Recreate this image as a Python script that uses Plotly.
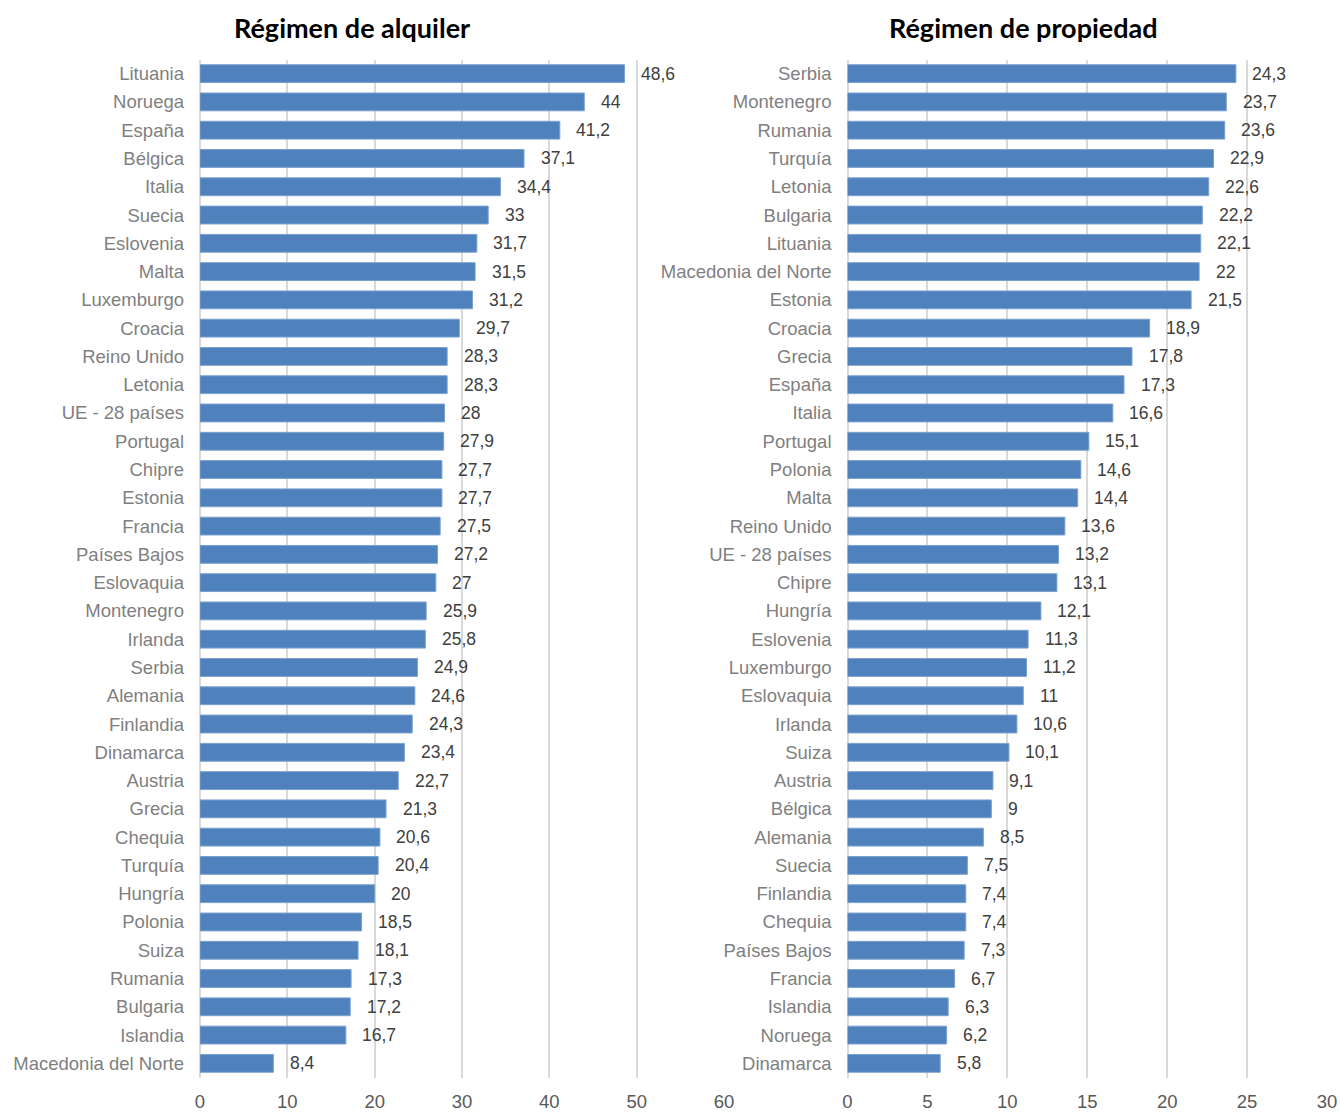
import plotly.graph_objects as go

# Régimen de alquiler (top to bottom)
paises_alquiler = [
    "Lituania", "Noruega", "España", "Bélgica", "Italia", "Suecia", "Eslovenia",
    "Malta", "Luxemburgo", "Croacia", "Reino Unido", "Letonia", "UE - 28 países",
    "Portugal", "Chipre", "Estonia", "Francia", "Países Bajos", "Eslovaquia",
    "Montenegro", "Irlanda", "Serbia", "Alemania", "Finlandia", "Dinamarca",
    "Austria", "Grecia", "Chequia", "Turquía", "Hungría", "Polonia", "Suiza",
    "Rumania", "Bulgaria", "Islandia", "Macedonia del Norte",
]
valores_alquiler = [
    48.6, 44, 41.2, 37.1, 34.4, 33, 31.7, 31.5, 31.2, 29.7, 28.3, 28.3, 28,
    27.9, 27.7, 27.7, 27.5, 27.2, 27, 25.9, 25.8, 24.9, 24.6, 24.3, 23.4,
    22.7, 21.3, 20.6, 20.4, 20, 18.5, 18.1, 17.3, 17.2, 16.7, 8.4,
]

# Régimen de propiedad (top to bottom)
paises_propiedad = [
    "Serbia", "Montenegro", "Rumania", "Turquía", "Letonia", "Bulgaria",
    "Lituania", "Macedonia del Norte", "Estonia", "Croacia", "Grecia", "España",
    "Italia", "Portugal", "Polonia", "Malta", "Reino Unido", "UE - 28 países",
    "Chipre", "Hungría", "Eslovenia", "Luxemburgo", "Eslovaquia", "Irlanda",
    "Suiza", "Austria", "Bélgica", "Alemania", "Suecia", "Finlandia", "Chequia",
    "Países Bajos", "Francia", "Islandia", "Noruega", "Dinamarca",
]
valores_propiedad = [
    24.3, 23.7, 23.6, 22.9, 22.6, 22.2, 22.1, 22, 21.5, 18.9, 17.8, 17.3,
    16.6, 15.1, 14.6, 14.4, 13.6, 13.2, 13.1, 12.1, 11.3, 11.2, 11, 10.6,
    10.1, 9.1, 9, 8.5, 7.5, 7.4, 7.4, 7.3, 6.7, 6.3, 6.2, 5.8,
]

titulos = ["Régimen de alquiler", "Régimen de propiedad"]

BAR = "#4f81bd"
GRID = "#d9d9d9"
LABEL_FONT = "Liberation Sans"


def fmt(v):
    return f"{v:g}".replace(".", ",")


fig = go.Figure()

panels = [
    (paises_alquiler, valores_alquiler, "x", "y"),
    (paises_propiedad, valores_propiedad, "x2", "y2"),
]

for paises, valores, xa, ya in panels:
    fig.add_trace(go.Bar(
        x=valores, y=paises, orientation="h",
        xaxis=xa, yaxis=ya,
        marker=dict(color=BAR, line=dict(color="#7aa0cf", width=1)),
        width=0.63,
        hoverinfo="x+y", showlegend=False,
    ))
    # value labels just past the end of each bar
    for p, v in zip(paises, valores):
        fig.add_annotation(
            x=v, y=p, xref=xa, yref=ya, text=fmt(v), showarrow=False,
            xanchor="left", yanchor="middle", xshift=14.5,
            font=dict(family=LABEL_FONT, size=17.5, color="#404040"),
        )

axis_common = dict(
    showgrid=True, gridcolor=GRID, gridwidth=1.5, zeroline=True,
    zerolinecolor=GRID, zerolinewidth=1.5, showline=False, ticks="",
    tickfont=dict(family=LABEL_FONT, size=18.5, color="#595959"),
    ticklabelstandoff=11, fixedrange=True, automargin=False,
)
ycommon = dict(
    autorange="reversed", showgrid=False, ticks="", showline=False,
    tickfont=dict(family=LABEL_FONT, size=18.5, color="#7f7f7f"),
    ticklabelstandoff=15, fixedrange=True, automargin=False,
)

ydom = [1 - 1077.5 / 1113, 1 - 59.5 / 1113]

fig.update_layout(
    width=1340, height=1113,
    margin=dict(l=0, r=0, t=0, b=0),
    paper_bgcolor="white", plot_bgcolor="white",
    xaxis=dict(domain=[200 / 1340, 724 / 1340], range=[0, 60], dtick=10,
               anchor="y", **axis_common),
    xaxis2=dict(domain=[847.5 / 1340, 1327 / 1340], range=[0, 30], dtick=5,
                anchor="y2", **axis_common),
    yaxis=dict(domain=ydom, anchor="x", **ycommon),
    yaxis2=dict(domain=ydom, anchor="x2", **ycommon),
)

# Panel titles
for xc, t in zip([352 / 1340, 1023 / 1340], titulos):
    fig.add_annotation(
        x=xc, y=1 - 28 / 1113, xref="paper", yref="paper", text=f"<b>{t}</b>",
        showarrow=False, xanchor="center", yanchor="middle",
        font=dict(family="Lato", size=27, color="#000000"),
    )

fig.write_html("out.html")
